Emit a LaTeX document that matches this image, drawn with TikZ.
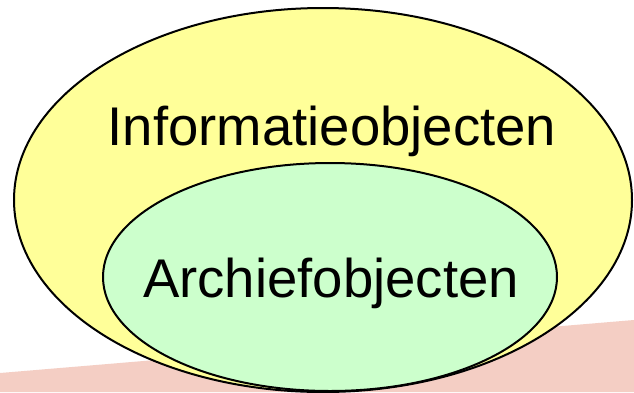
\documentclass[tikz,border=0pt]{standalone}
\usepackage{fontspec}
\setmainfont{Liberation Sans}
\definecolor{bandpink}{HTML}{F4CEC4}
\definecolor{outerfill}{HTML}{FFFF99}
\definecolor{innerfill}{HTML}{CCFFCC}
\begin{document}
\begin{tikzpicture}[x=1pt,y=-1pt,
  blob/.style={draw=black,line width=2pt},
  label/.style={font=\fontsize{54.5}{56}\selectfont,inner sep=0pt,anchor=base}]
\useasboundingbox (0,0) rectangle (634,392);
\fill[white] (0,0) rectangle (634,392);
\fill[bandpink] (0,373) -- (634,320) -- (634,392) -- (0,392) -- cycle;
\draw[blob,fill=outerfill] (323,200) ellipse [x radius=309, y radius=192];
\draw[blob,fill=innerfill] (330,277) ellipse [x radius=227, y radius=114];
\node[label] (info) at (332,145) {Informatieobjecten};
\node[label] (arch) at (331,297) {Archiefobjecten};
\end{tikzpicture}
\end{document}
